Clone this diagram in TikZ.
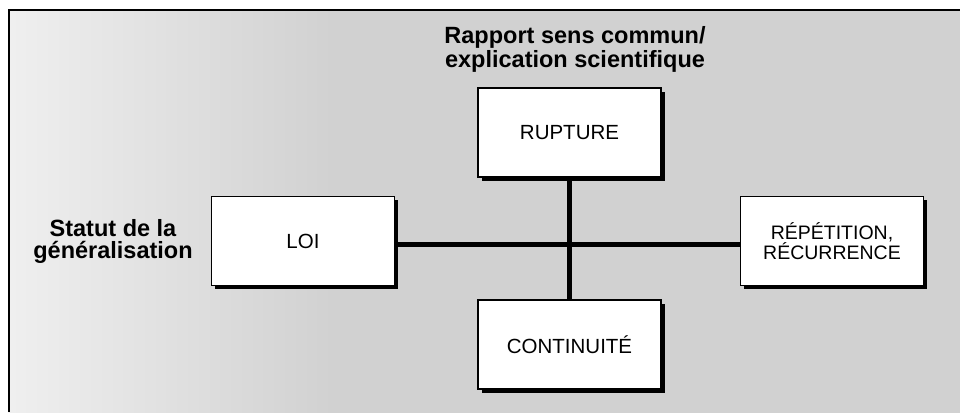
\documentclass[tikz,border=0pt]{standalone}
\usepackage{fontspec}
\setmainfont{Liberation Sans}
\usetikzlibrary{shadows}
\definecolor{bggray}{gray}{0.82}
\pgfdeclarehorizontalshading{bgshade}{100bp}{color(0bp)=(white); color(16bp)=(white); color(42bp)=(bggray); color(100bp)=(bggray)}
\begin{document}
\begin{tikzpicture}[x=1pt,y=-1pt,
  box/.style={draw=black, line width=1.5pt, fill=white, minimum width=183pt, minimum height=89pt, inner sep=0pt, align=center, font=\fontsize{20.5}{20}\selectfont, drop shadow={shadow xshift=3.5pt, shadow yshift=-3.5pt, fill=black, opacity=1}},
  twoline/.style={font=\fontsize{19.5}{19.5}\selectfont},
  lbl/.style={align=center, inner sep=0pt, font=\bfseries\fontsize{23.5}{24}\selectfont},
  link/.style={line width=4.5pt}]
\useasboundingbox (0,0) rectangle (960,412);
\clip (0,0) rectangle (960,412);
\shade[shading=bgshade] (8.5,10.5) rectangle (960,412);
\draw[line width=2pt] (8.5,412) -- (8.5,10.5) -- (960,10.5);

\node[box] (rup) at (569.5,132.5) {RUPTURE};
\node[box] (loi) at (303,241) {LOI};
\node[box,twoline] (rep) at (832,241) {RÉPÉTITION,\\RÉCURRENCE};
\node[box] (cont) at (569.5,344.5) {CONTINUITÉ};

\node[lbl] (t1) at (575,49) {Rapport sens commun/\\explication scientifique};
\node[lbl, font=\bfseries\fontsize{23.5}{21.5}\selectfont] (t2) at (113,241.5) {Statut de la\\généralisation};

\draw[link] (rup.south) -- (cont.north);
\draw[link] ([yshift=-3.5pt]loi.east) -- ([yshift=-3.5pt]rep.west);
\end{tikzpicture}
\end{document}
